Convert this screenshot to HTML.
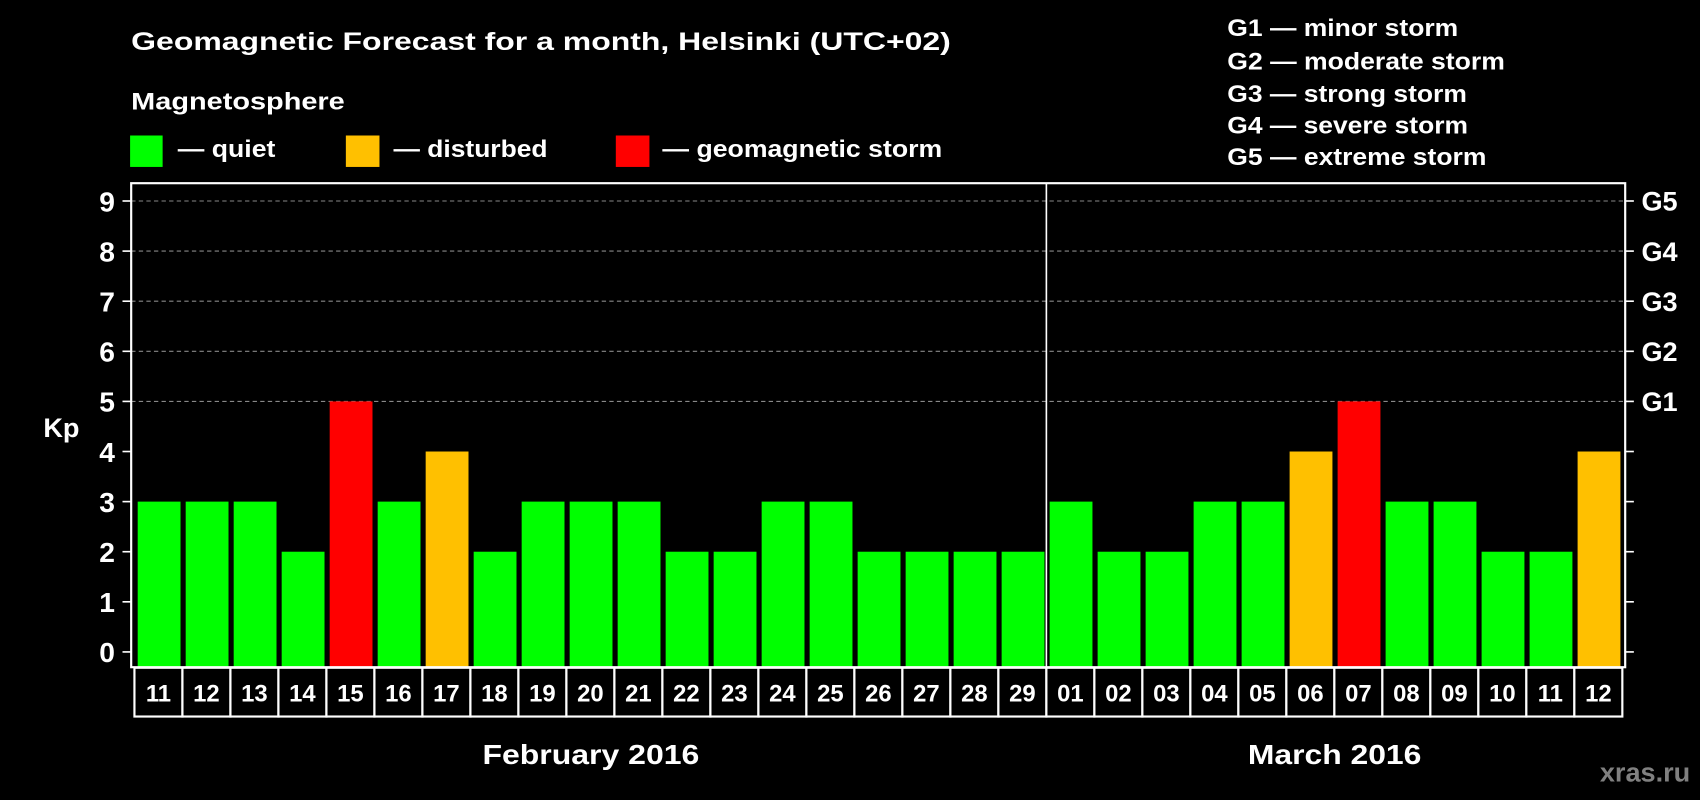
<!DOCTYPE html>
<html><head><meta charset="utf-8"><style>
html,body{margin:0;padding:0;background:#000;}
svg{display:block;font-family:"Liberation Sans",Arial,sans-serif;font-weight:bold;}
</style></head><body>
<svg id="chart" width="1700" height="800" viewBox="0 0 1568 738" preserveAspectRatio="none" xmlns="http://www.w3.org/2000/svg">
<rect x="0" y="0" width="1568" height="738" fill="#000"/>
<text x="121" y="46" fill="#fff" font-size="23" textLength="756" lengthAdjust="spacingAndGlyphs">Geomagnetic Forecast for a month, Helsinki (UTC+02)</text>
<text x="121" y="101" fill="#fff" font-size="22" textLength="197" lengthAdjust="spacingAndGlyphs">Magnetosphere</text>
<g>
<rect x="120" y="125" width="30" height="29" fill="#00ff00"/>
<text x="164" y="145" fill="#fff" font-size="22" textLength="90" lengthAdjust="spacingAndGlyphs">— quiet</text>
<rect x="319" y="125" width="31" height="29" fill="#ffc000"/>
<text x="363" y="145" fill="#fff" font-size="22" textLength="142" lengthAdjust="spacingAndGlyphs">— disturbed</text>
<rect x="568" y="125" width="31" height="29" fill="#ff0000"/>
<text x="611" y="145" fill="#fff" font-size="22" textLength="258" lengthAdjust="spacingAndGlyphs">— geomagnetic storm</text>
</g>
<g fill="#fff" font-size="22">
<text x="1132" y="33" textLength="213" lengthAdjust="spacingAndGlyphs">G1 — minor storm</text>
<text x="1132" y="64" textLength="256" lengthAdjust="spacingAndGlyphs">G2 — moderate storm</text>
<text x="1132" y="94" textLength="221" lengthAdjust="spacingAndGlyphs">G3 — strong storm</text>
<text x="1132" y="123" textLength="222" lengthAdjust="spacingAndGlyphs">G4 — severe storm</text>
<text x="1132" y="152" textLength="239" lengthAdjust="spacingAndGlyphs">G5 — extreme storm</text>
</g>
<text x="40" y="403" fill="#fff" font-size="25">Kp</text>
<g id="grid"></g>
<g id="bars"></g>
<g id="boxes"></g>
<g id="axes"></g>
<text x="545" y="705" fill="#fff" font-size="26" text-anchor="middle" textLength="200" lengthAdjust="spacingAndGlyphs">February 2016</text>
<text x="1231" y="705" fill="#fff" font-size="26" text-anchor="middle" textLength="160" lengthAdjust="spacingAndGlyphs">March 2016</text>
<text x="1559" y="721" fill="#808080" font-size="25" text-anchor="end">xras.ru</text>
</svg>
<script>
const days = ["11","12","13","14","15","16","17","18","19","20","21","22","23","24","25","26","27","28","29","01","02","03","04","05","06","07","08","09","10","11","12"];
const kpValues = [3,3,3,2,5,3,4,2,3,3,3,2,2,3,3,2,2,2,2,3,2,2,3,3,4,5,3,3,2,2,4];
const yTicks = [0,1,2,3,4,5,6,7,8,9];
const gLabels = ["G1","G2","G3","G4","G5"];
const gLevels = [5,6,7,8,9];
const monthBreakIndex = 19;

const NS="http://www.w3.org/2000/svg";
const plotL=121, plotR=1499, plotT=169, plotB=615.5;
const y0=601.4, unit=46.22;
const barX0=127, pitch=44.27, barW=39.5, boxX0=124;
function yScale(v){return y0-v*unit;}
function xScale(i){return barX0+i*pitch;}
function mk(tag,attrs,parent){const e=document.createElementNS(NS,tag);for(const k in attrs)e.setAttribute(k,attrs[k]);parent.appendChild(e);return e;}
function color(v){return v>=5?"#ff0000":(v>=4?"#ffc000":"#00ff00");}

const grid=document.getElementById('grid');
yTicks.forEach(t=>{
  if(t>=5){
    const l=mk('line',{x1:plotL,x2:plotR,y1:yScale(t),y2:yScale(t),stroke:"#888","stroke-width":1,"stroke-dasharray":"4,3"},grid);
    
    
  }
});
const bars=document.getElementById('bars');
kpValues.forEach((v,i)=>{
  const r=mk('rect',{x:xScale(i),y:yScale(v),width:barW,height:plotB-yScale(v),fill:color(v)},bars);
  
  
});
const axes=document.getElementById('axes');
const frame=mk('rect',{x:plotL,y:plotT,width:plotR-plotL,height:plotB-plotT,fill:"none",stroke:"#fff","stroke-width":2},axes);


const div=mk('line',{x1:boxX0+monthBreakIndex*pitch,x2:boxX0+monthBreakIndex*pitch,y1:plotT,y2:plotB,stroke:"#fff","stroke-width":1.5},axes);


yTicks.forEach(t=>{
  mk('line',{x1:113,x2:plotL,y1:yScale(t),y2:yScale(t),stroke:"#fff","stroke-width":1.5},axes);
  mk('line',{x1:plotR,x2:1507,y1:yScale(t),y2:yScale(t),stroke:"#fff","stroke-width":1.5},axes);
  const tx=mk('text',{x:106,y:yScale(t)+9.5,fill:"#fff","font-size":26,"text-anchor":"end"},axes);
  tx.textContent=t;
  
  
});
gLabels.forEach((g,i)=>{
  const tx=mk('text',{x:1514,y:yScale(gLevels[i])+9,fill:"#fff","font-size":25},axes);
  tx.textContent=g;
  
  
});
const boxes=document.getElementById('boxes');
days.forEach((d,i)=>{
  const bx=mk('rect',{x:boxX0+i*pitch,y:616,width:pitch,height:45,fill:"#000",stroke:"#fff","stroke-width":2},boxes);
  
  
  const tx=mk('text',{x:boxX0+i*pitch+pitch/2,y:647,fill:"#fff","font-size":22,"text-anchor":"middle"},boxes);
  tx.textContent=d;
  
  
});
</script>
</body></html>
